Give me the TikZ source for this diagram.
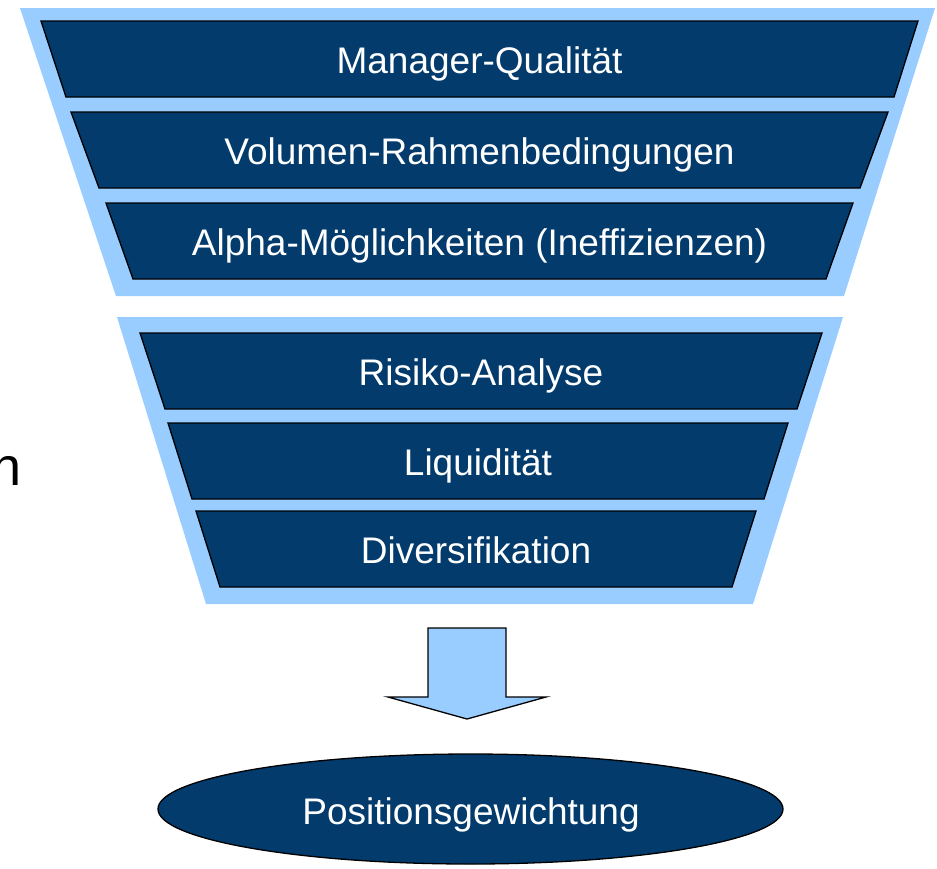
\documentclass[tikz,border=0pt]{standalone}
\usepackage{fontspec}
\setmainfont{Liberation Sans}
\definecolor{navy}{HTML}{023B6C}
\definecolor{lightblue}{HTML}{99CCFF}
\begin{document}
\begin{tikzpicture}[x=1pt,y=-1pt,
  funnel/.style={fill=lightblue,draw=none},
  layer/.style={fill=navy,draw=black,line width=1.3pt,line join=miter},
  lbl/.style={text=white,font=\fontsize{37}{44}\selectfont,inner sep=0pt,anchor=base},
  arrowshape/.style={fill=lightblue,draw=black,line width=1.3pt,line join=miter}]
\useasboundingbox (0,0) rectangle (937,868);
% upper funnel
\path[funnel] (20,8) -- (935,8) -- (844,296) -- (116,296) -- cycle;
\path[layer] (41,21) -- (918,21) -- (894,97) -- (66,97) -- cycle;
\path[layer] (71,112) -- (888,112) -- (860,188) -- (99,188) -- cycle;
\path[layer] (106,203) -- (853,203) -- (826,279) -- (133,279) -- cycle;
\node[lbl] (mq) at (479.5,73) {Manager-Qualität};
\node[lbl] (vr) at (479.5,164) {Volumen-Rahmenbedingungen};
\node[lbl] (am) at (479.5,255) {Alpha-Möglichkeiten (Ineffizienzen)};
% lower funnel
\path[funnel] (117,317) -- (843,317) -- (753,604) -- (206,604) -- cycle;
\path[layer] (140,333) -- (822,333) -- (797,409) -- (165,409) -- cycle;
\path[layer] (168,423) -- (788,423) -- (764,499) -- (192,499) -- cycle;
\path[layer] (196,511) -- (756,511) -- (732,587) -- (220,587) -- cycle;
\node[lbl] (ra) at (481,385) {Risiko-Analyse};
\node[lbl] (lq) at (478,475) {Liquidität};
\node[lbl] (dv) at (476,563) {Diversifikation};
% cut-off text at left
\node[anchor=base east,inner sep=0pt,font=\fontsize{54}{60}\selectfont] (cut) at (22,485) {n};
% arrow
\path[arrowshape] (428,628) -- (506,628) -- (506,697) -- (546,697) -- (467,719) -- (388,697) -- (428,697) -- cycle;
% ellipse
\path[layer] (470.5,809) ellipse [x radius=312.5, y radius=55];
\node[lbl] (pg) at (471,824) {Positionsgewichtung};
\end{tikzpicture}
\end{document}
